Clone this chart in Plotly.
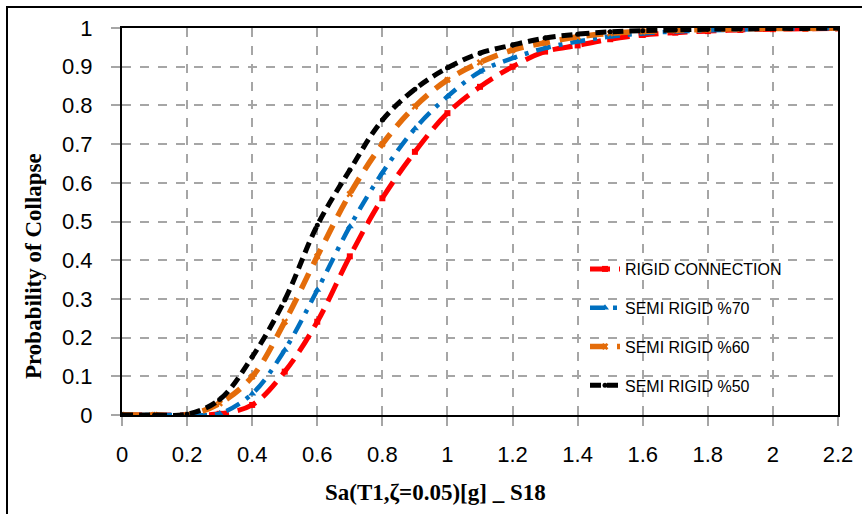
import plotly.graph_objects as go

# ---- data ----
sa = [0.0, 0.1, 0.2, 0.3, 0.4, 0.5, 0.6, 0.7, 0.8, 0.9, 1.0, 1.1, 1.2,
      1.3, 1.4, 1.5, 1.6, 1.7, 1.8, 1.9, 2.0, 2.1, 2.2]
rigid = [0, 0, 0, 0.003, 0.026, 0.112, 0.241, 0.41, 0.56, 0.68, 0.78, 0.848, 0.90,
         0.939, 0.955, 0.971, 0.982, 0.988, 0.992, 0.995, 0.997, 0.998, 0.999]
semi70 = [0, 0, 0, 0.004, 0.055, 0.168, 0.323, 0.487, 0.626, 0.74, 0.823, 0.887, 0.922,
          0.948, 0.965, 0.978, 0.986, 0.991, 0.994, 0.996, 0.998, 0.999, 0.999]
semi60 = [0, 0, 0, 0.03, 0.099, 0.241, 0.41, 0.571, 0.70, 0.797, 0.866, 0.911, 0.943,
          0.962, 0.977, 0.986, 0.991, 0.994, 0.996, 0.998, 0.999, 0.999, 1.0]
semi50 = [0, 0, 0.002, 0.04, 0.15, 0.297, 0.49, 0.633, 0.762, 0.842, 0.897, 0.935, 0.956,
          0.974, 0.984, 0.99, 0.993, 0.995, 0.997, 0.998, 0.999, 0.999, 1.0]

series_names = ["RIGID CONNECTION", "SEMI RIGID %70", "SEMI RIGID %60", "SEMI RIGID %50"]
x_ticks = [0, 0.2, 0.4, 0.6, 0.8, 1.0, 1.2, 1.4, 1.6, 1.8, 2.0, 2.2]
x_tick_text = ["0", "0.2", "0.4", "0.6", "0.8", "1", "1.2", "1.4", "1.6", "1.8", "2", "2.2"]
y_ticks = [0, 0.1, 0.2, 0.3, 0.4, 0.5, 0.6, 0.7, 0.8, 0.9, 1.0]
y_tick_text = ["0", "0.1", "0.2", "0.3", "0.4", "0.5", "0.6", "0.7", "0.8", "0.9", "1"]

styles = [
    dict(color="#ff0000", dash="20px,9px", width=5, symbol="square", msize=6),
    dict(color="#0070c0", dash="15px,8px,4px,8px", width=4.5, symbol="triangle-up", msize=7),
    dict(color="#e46c0a", dash="17px,10px", width=5.5, symbol="x", msize=6),
    dict(color="#000000", dash="11px,6px", width=5, symbol="circle", msize=5),
]

fig = go.Figure()
for name, ys, st in zip(series_names, [rigid, semi70, semi60, semi50], styles):
    fig.add_trace(go.Scatter(
        x=sa, y=ys, name=name, mode="lines+markers", legendgroup=name,
        line=dict(color=st["color"], dash=st["dash"], width=st["width"], shape="spline"),
        marker=dict(color=st["color"], symbol=st["symbol"], size=st["msize"]),
    ))

W, H = 862, 514
L, R, T, B = 122, 24, 28, 99
pw, ph = W - L - R, H - T - B

def px_x(p):
    return (p - L) / pw

def px_y(p):
    return (H - B - p) / ph

fig.update_layout(
    width=W, height=H,
    margin=dict(l=L, r=R, t=T, b=B, autoexpand=False),
    paper_bgcolor="white", plot_bgcolor="white",
    font=dict(family="Liberation Sans, Arial, sans-serif", color="#000000"),
    showlegend=True,
    legend=dict(
        x=px_x(585), y=px_y(252), xanchor="left", yanchor="top",
        bgcolor="rgba(255,255,255,0)", font=dict(size=16, family="Liberation Sans, Arial"),
        tracegroupgap=15,
    ),
    xaxis=dict(
        range=[0, 2.2], tickvals=x_ticks, ticktext=x_tick_text, automargin=False,
        showgrid=True, gridcolor="#a6a6a6", griddash="dash", gridwidth=1.5,
        showline=True, linecolor="#000000", linewidth=2, mirror=True,
        ticks="outside", ticklen=9, tickcolor="#a6a6a6", tickwidth=1.5,
        tickfont=dict(size=22), zeroline=False, ticklabelstandoff=10,
    ),
    yaxis=dict(
        range=[0, 1], tickvals=y_ticks, ticktext=y_tick_text, automargin=False,
        showgrid=True, gridcolor="#a6a6a6", griddash="dash", gridwidth=1.5,
        showline=True, linecolor="#000000", linewidth=2, mirror=True,
        ticks="outside", ticklen=9, tickcolor="#a6a6a6", tickwidth=1.5,
        tickfont=dict(size=22), zeroline=False, ticklabelstandoff=14,
    ),
    shapes=[
        dict(type="rect", xref="paper", yref="paper",
             x0=px_x(7), x1=px_x(900), y0=px_y(560), y1=px_y(7),
             line=dict(color="#000000", width=2), fillcolor="rgba(0,0,0,0)", layer="above"),
    ],
    annotations=[
        dict(text="<b>Probability of Collapse</b>", xref="paper", yref="paper",
             x=px_x(33), y=px_y(266), textangle=-90, showarrow=False,
             xanchor="center", yanchor="middle",
             font=dict(family="Liberation Serif, Times New Roman, serif", size=23)),
        dict(text="<b>Sa(T1,ζ=0.05)[g] _ S18</b>", xref="paper", yref="paper",
             x=px_x(435), y=px_y(492), showarrow=False,
             xanchor="center", yanchor="middle",
             font=dict(family="Liberation Serif, Times New Roman, serif", size=23)),
    ],
)

fig.write_html("out.html", config={"displayModeBar": False},
               post_script="document.body.style.margin='0';document.body.style.padding='0';")
